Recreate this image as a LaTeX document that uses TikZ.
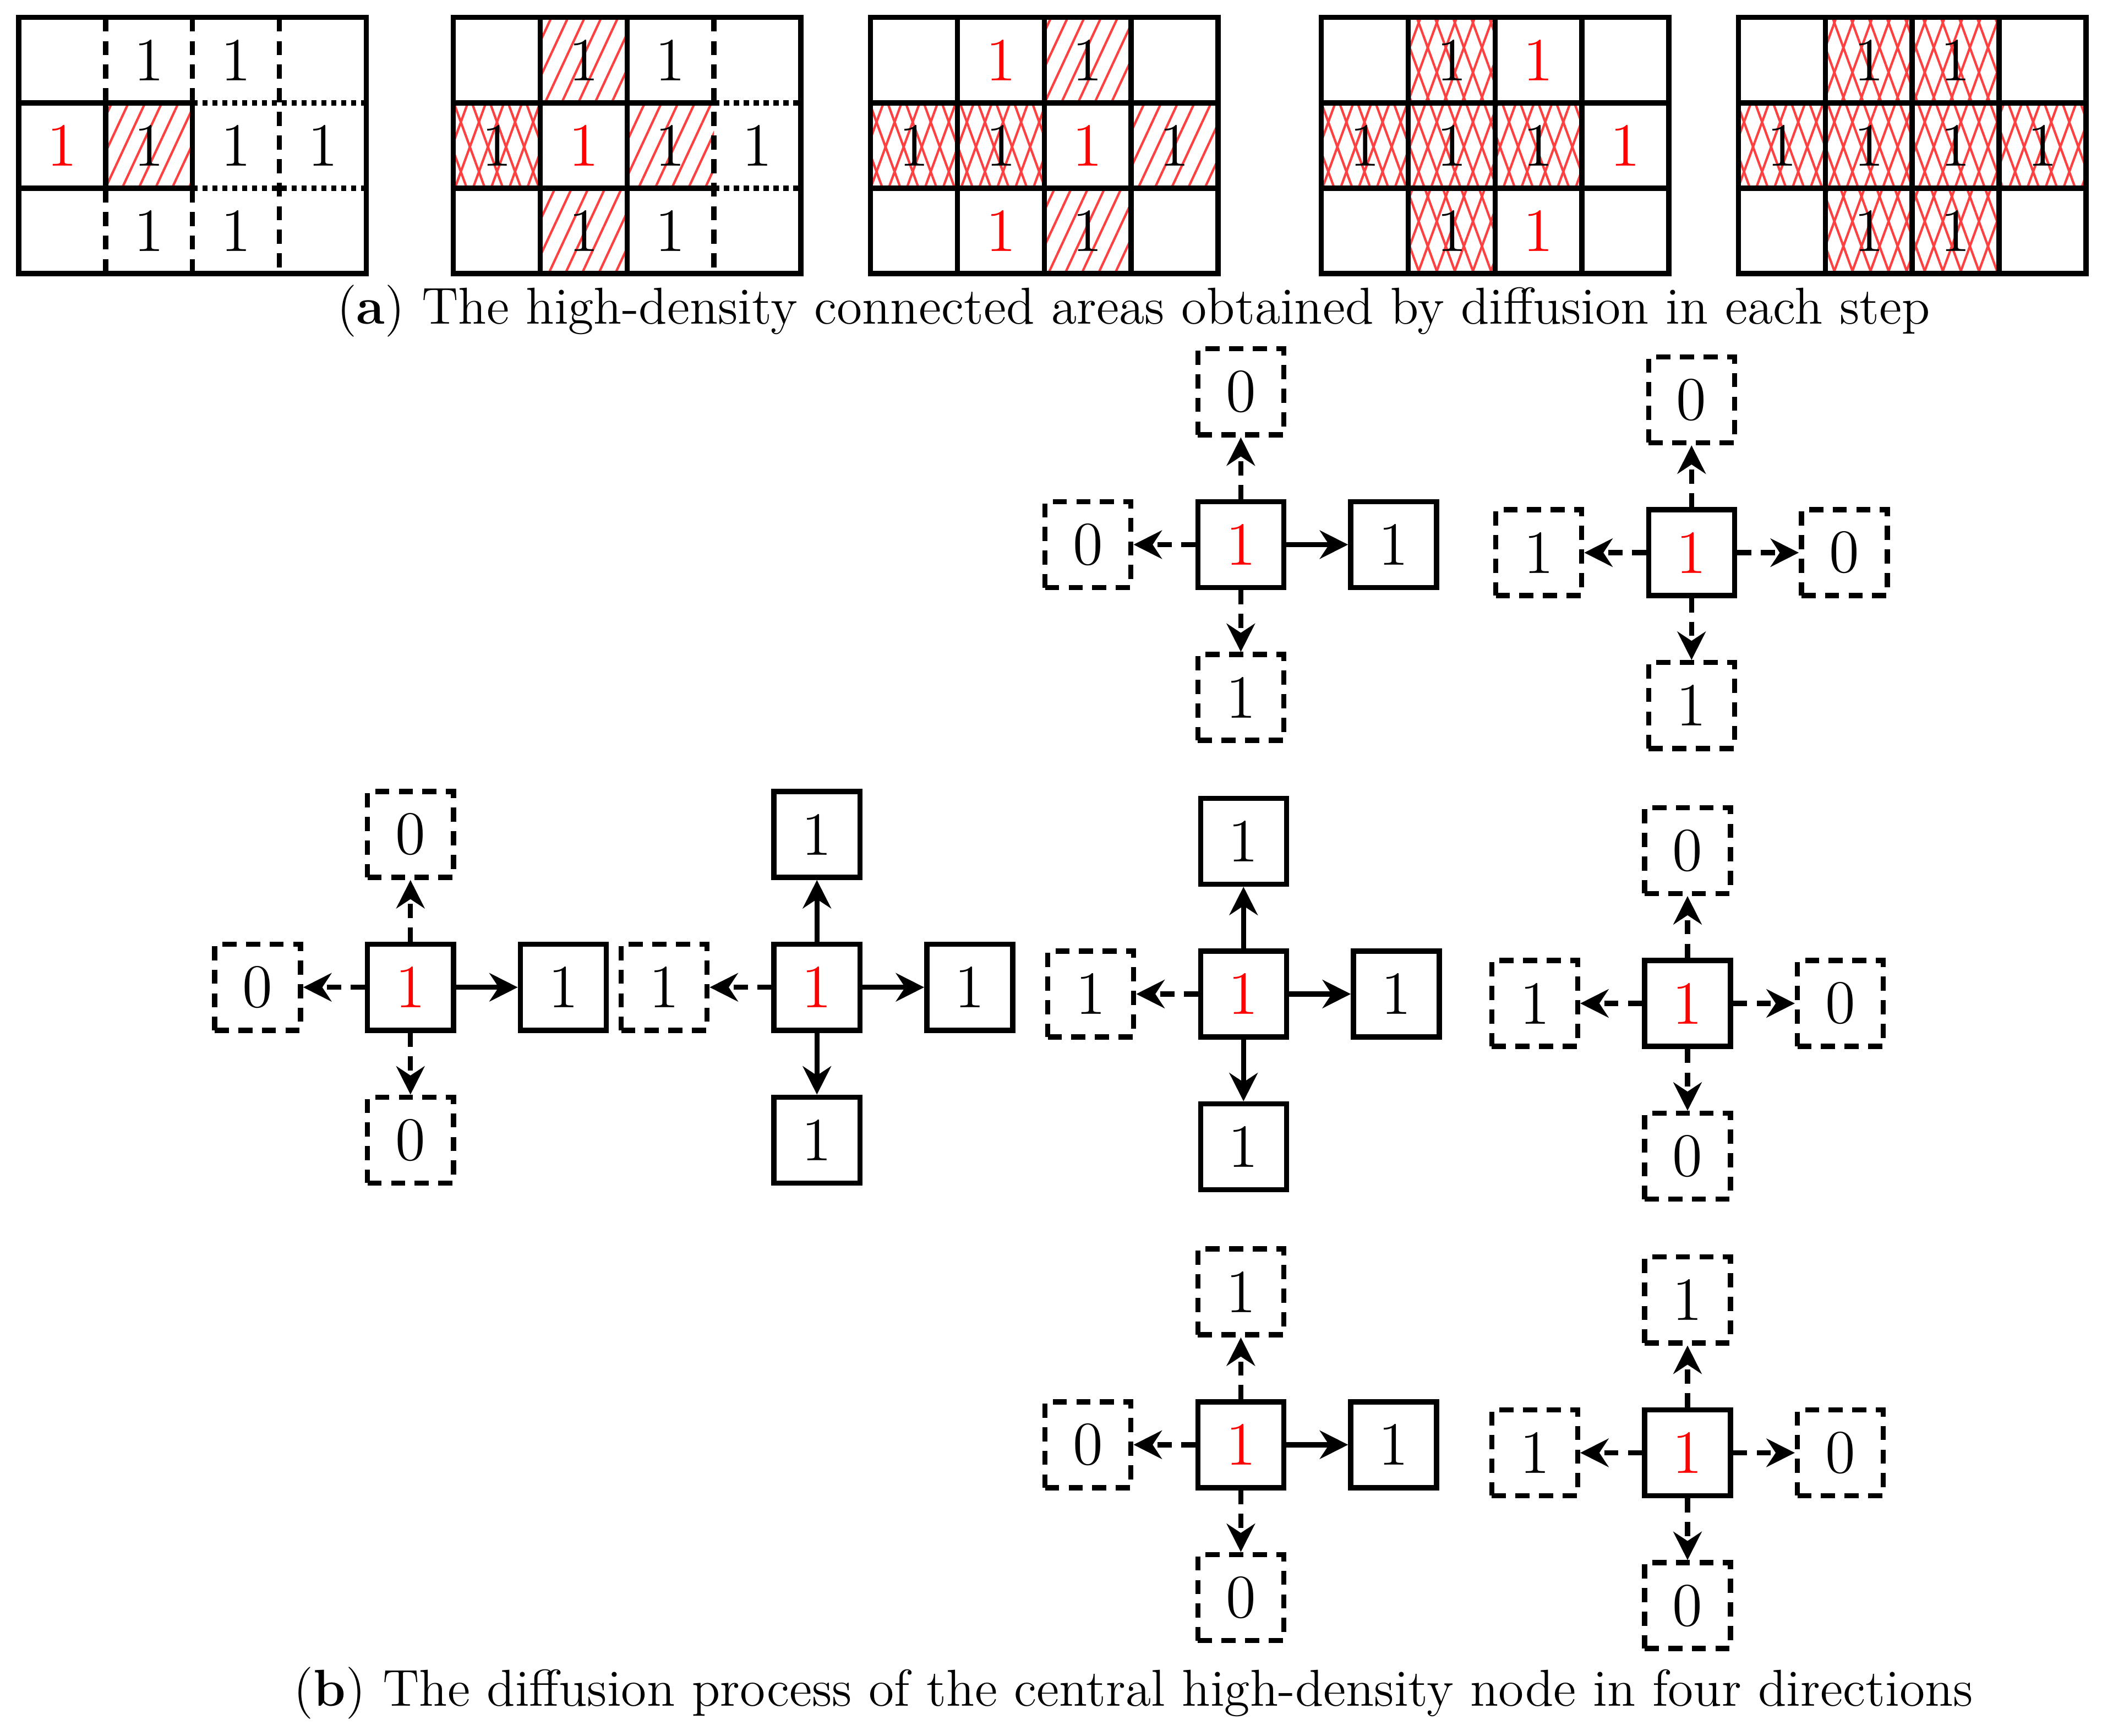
\documentclass[tikz,border=0pt]{standalone}
\usepackage{xcolor}
\usetikzlibrary{positioning, arrows.meta, patterns.meta}

\tikzset{
  cell/.style={draw, line width=1.1pt, minimum size=0.64cm, inner sep=0pt, font=\fontsize{13}{15}\selectfont},
  arr/.style={-{Stealth[length=6pt,width=6pt]}, line width=1.1pt},
  dsh/.style={densely dashed},
  grd/.style={line width=1.1pt},
  hatch/.style={pattern={Lines[angle=65,distance=3.2pt,line width=0.5pt]}, pattern color=red!75},
  crossa/.style={pattern={Lines[angle=70,distance=3.6pt,line width=0.5pt]}, pattern color=red!75},
  crossb/.style={pattern={Lines[angle=110,distance=3.6pt,line width=0.5pt]}, pattern color=red!75},
  num/.style={font=\fontsize{13}{15}\selectfont},
  captxt/.style={font=\fontsize{11}{13}\selectfont}
}
\def\cw{64.75}
\def\ch{63.67}

% one diffusion cross: centre node, then its four neighbours
\newcommand{\diffcross}[3]{%
  \node[cell] (#1) at #2 {\textcolor{red}{1}};
  \foreach \dir/\lab/\st in {#3} {
    \node[cell,\st,\dir=of #1] (#1-\dir) {\lab};
    \draw[arr,\st] (#1) -- (#1-\dir);
  }
}

% cells of a grid
\newcommand{\cellfill}[2]{\foreach \c/\r in {#2} \fill[#1] (\c*\cw,\r*\ch) rectangle ++(\cw,\ch);}
\newcommand{\cellnum}[2]{\foreach \c/\r in {#2} \node[num,#1] at (\c*\cw+\cw/2,\r*\ch+\ch/2) {1};}

\begin{document}
\begin{tikzpicture}[x=0.01cm, y=-0.01cm, node distance=0.46cm]
  \useasboundingbox (0,0) rectangle (1567,1294);

  % (a) grid 1
  \begin{scope}[shift={(14,13)}]
    \cellfill{hatch}{1/1}
    \draw[grd] (0,0) rectangle (4*\cw,3*\ch);
    \foreach \r in {1,2} {
      \draw[grd] (0,\r*\ch) -- (2*\cw,\r*\ch);
      \draw[grd,densely dotted] (2*\cw,\r*\ch) -- (4*\cw,\r*\ch);
    }
    \foreach \c in {1,2} {
      \draw[grd,dsh] (\c*\cw,0) -- (\c*\cw,\ch);
      \draw[grd] (\c*\cw,\ch) -- (\c*\cw,2*\ch);
      \draw[grd,dsh] (\c*\cw,2*\ch) -- (\c*\cw,3*\ch);
    }
    \draw[grd,dsh] (3*\cw,0) -- (3*\cw,3*\ch);
    \cellnum{}{1/0,2/0,1/1,2/1,3/1,1/2,2/2}
    \cellnum{red}{0/1}
  \end{scope}

  % (a) grid 2
  \begin{scope}[shift={(338,13)}]
    \cellfill{hatch}{1/0,2/1,1/2}
    \cellfill{crossa}{0/1}
    \cellfill{crossb}{0/1}
    \draw[grd] (0,0) rectangle (4*\cw,3*\ch);
    \foreach \r in {1,2} {
      \draw[grd] (0,\r*\ch) -- (3*\cw,\r*\ch);
      \draw[grd,densely dotted] (3*\cw,\r*\ch) -- (4*\cw,\r*\ch);
    }
    \foreach \c in {1,2} \draw[grd] (\c*\cw,0) -- (\c*\cw,3*\ch);
    \draw[grd,dsh] (3*\cw,0) -- (3*\cw,3*\ch);
    \cellnum{}{1/0,2/0,0/1,2/1,3/1,1/2,2/2}
    \cellnum{red}{1/1}
  \end{scope}

  % (a) grid 3
  \begin{scope}[shift={(649,13)}]
    \cellfill{hatch}{2/0,3/1,2/2}
    \cellfill{crossa}{0/1,1/1}
    \cellfill{crossb}{0/1,1/1}
    \draw[grd] (0,0) rectangle (4*\cw,3*\ch);
    \foreach \r in {1,2} \draw[grd] (0,\r*\ch) -- (4*\cw,\r*\ch);
    \foreach \c in {1,2,3} \draw[grd] (\c*\cw,0) -- (\c*\cw,3*\ch);
    \cellnum{}{2/0,0/1,1/1,3/1,2/2}
    \cellnum{red}{1/0,2/1,1/2}
  \end{scope}

  % (a) grid 4
  \begin{scope}[shift={(985,13)}]
    \cellfill{crossa}{1/0,0/1,1/1,2/1,1/2}
    \cellfill{crossb}{1/0,0/1,1/1,2/1,1/2}
    \draw[grd] (0,0) rectangle (4*\cw,3*\ch);
    \foreach \r in {1,2} \draw[grd] (0,\r*\ch) -- (4*\cw,\r*\ch);
    \foreach \c in {1,2,3} \draw[grd] (\c*\cw,0) -- (\c*\cw,3*\ch);
    \cellnum{}{1/0,0/1,1/1,2/1,1/2}
    \cellnum{red}{2/0,3/1,2/2}
  \end{scope}

  % (a) grid 5
  \begin{scope}[shift={(1296,13)}]
    \cellfill{crossa}{1/0,2/0,0/1,1/1,2/1,3/1,1/2,2/2}
    \cellfill{crossb}{1/0,2/0,0/1,1/1,2/1,3/1,1/2,2/2}
    \draw[grd] (0,0) rectangle (4*\cw,3*\ch);
    \foreach \r in {1,2} \draw[grd] (0,\r*\ch) -- (4*\cw,\r*\ch);
    \foreach \c in {1,2,3} \draw[grd] (\c*\cw,0) -- (\c*\cw,3*\ch);
    \cellnum{}{1/0,2/0,0/1,1/1,2/1,3/1,1/2,2/2}
  \end{scope}

  \node[captxt] (capa) at (845,232) {(\textbf{a}) The high-density connected areas obtained by diffusion in each step};

  % (b) crosses
  \diffcross{ca}{(925,406)}{above/0/dsh, left/0/dsh, right/1/solid, below/1/dsh}
  \diffcross{cb}{(1261,412)}{above/0/dsh, left/1/dsh, right/0/dsh, below/1/dsh}
  \diffcross{cc}{(306,736)}{above/0/dsh, left/0/dsh, right/1/solid, below/0/dsh}
  \diffcross{cd}{(609,736)}{above/1/solid, left/1/dsh, right/1/solid, below/1/solid}
  \diffcross{ce}{(927,741)}{above/1/solid, left/1/dsh, right/1/solid, below/1/solid}
  \diffcross{cf}{(1258,748)}{above/0/dsh, left/1/dsh, right/0/dsh, below/0/dsh}
  \diffcross{cg}{(925,1077)}{above/1/dsh, left/0/dsh, right/1/solid, below/0/dsh}
  \diffcross{ch}{(1258,1083)}{above/1/dsh, left/1/dsh, right/0/dsh, below/0/dsh}

  \node[captxt] (capb) at (845,1262) {(\textbf{b}) The diffusion process of the central high-density node in four directions};
\end{tikzpicture}
\end{document}
